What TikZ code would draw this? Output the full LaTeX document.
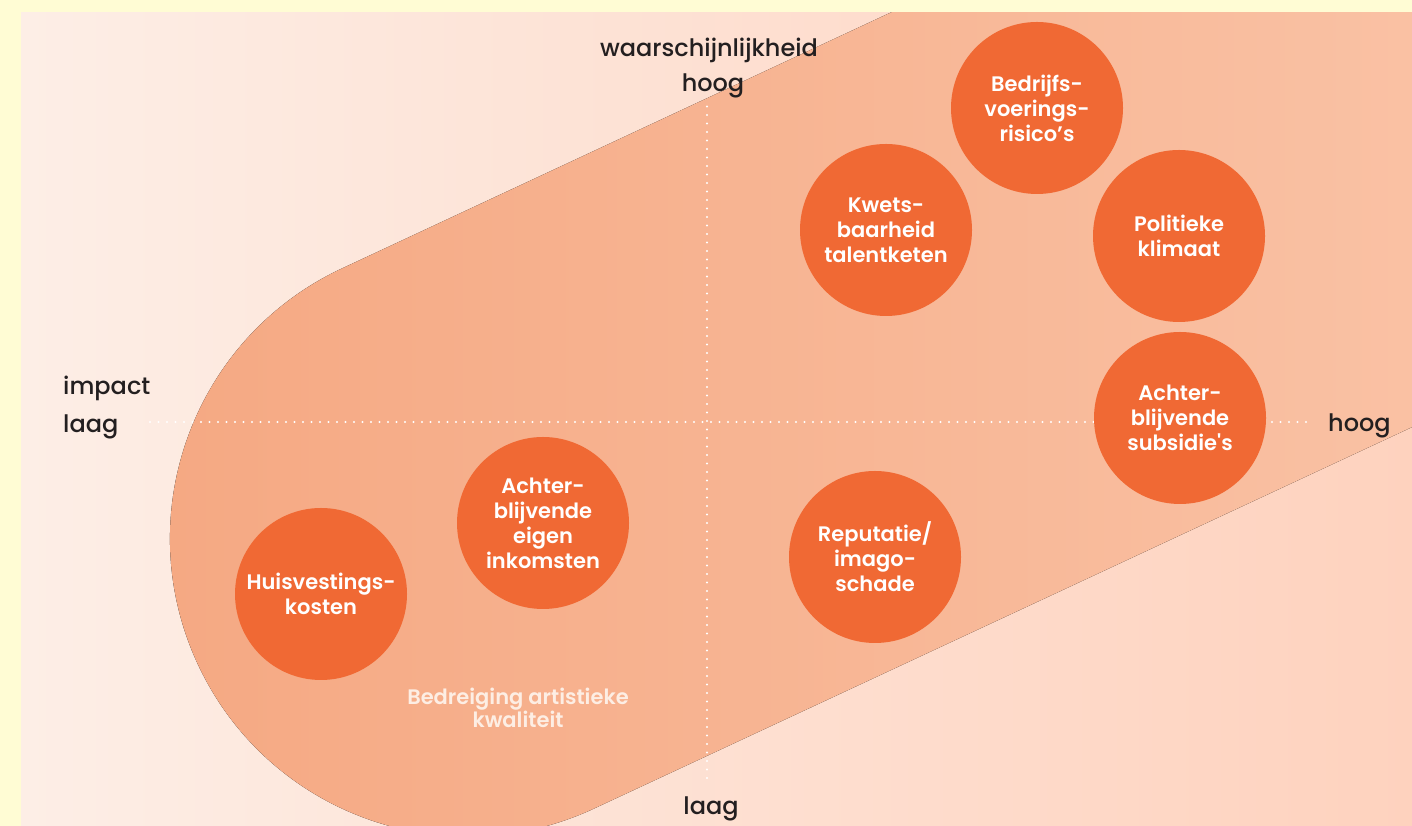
\documentclass[tikz,border=0pt]{standalone}
\usepackage{fontspec}
\setmainfont{Poppins}
\newfontfamily\riskfont{Poppins}[UprightFont={* SemiBold}]
\newfontfamily\axisfont{Poppins}[UprightFont={* Medium}]
\definecolor{bordergold}{HTML}{FFFCD4}
\definecolor{panelL}{HTML}{FDEEE6}
\definecolor{panelR}{HTML}{FED2BE}
\definecolor{bandL}{HTML}{F5A882}
\definecolor{bandR}{HTML}{FBC8AD}
\definecolor{riskorange}{HTML}{F06934}
\definecolor{labelgrey}{HTML}{231F20}
\definecolor{threatpale}{HTML}{FDEEE4}

\begin{document}
\begin{tikzpicture}
	[x=1pt,y=1pt,
	risk/.style={shape=circle,fill=riskorange,text=white,minimum size=172pt,
		inner sep=0pt,align=center,font=\riskfont\fontsize{21}{25}\selectfont},
	axislabel/.style={text=labelgrey,inner sep=0pt,font=\axisfont\fontsize{24}{35}\selectfont},
	axisline/.style={white,line width=2.2pt,line cap=round,dash pattern=on 0pt off 8.5pt}]
	\useasboundingbox (0,0) rectangle (1412,826);
	\fill[bordergold] (0,0) rectangle (1412,826);
	\fill[left color=panelL,right color=panelR] (21,0) rectangle (1412,813);
	
	% band from low/low to high/high
	\begin{scope}
		\clip (21,0) rectangle (1412,813);
		\fill[left color=bandL,right color=bandR] (468,287.5) ++(115:298)
		arc[start angle=115,end angle=295,radius=298]
		-- ++(25:1300) -- ++(115:596) -- cycle;
	\end{scope}
	
	% axes
	\coordinate (xlow) at (150,404);
	\coordinate (xhigh) at (1308,404);
	\coordinate (ytop) at (707,723);
	\coordinate (ybot) at (707,48);
	\draw[axisline] (xlow) -- (xhigh);
	\draw[axisline] (ybot) -- (ytop);
	
	\node[axislabel,anchor=base] (probname) at (709,769) {waarschijnlijkheid};
	\node[axislabel,anchor=base] (probhigh) at (713,734) {hoog};
	\node[axislabel,anchor=base] (problow) at (711,11) {laag};
	\node[axislabel,anchor=base west] (impname) at (63,431) {impact};
	\node[axislabel,anchor=base west] (implow) at (63,393) {laag};
	\node[axislabel,anchor=base west] (imphigh) at (1328,394) {hoog};
	
	% risks
	\node[risk] (bedrijf) at (1037,718) {Bedrijfs-\\voerings-\\risico’s};
	\node[risk] (kwets) at (886,596) {Kwets-\\baarheid\\talentketen};
	\node[risk] (politiek) at (1179,590) {Politieke\\klimaat};
	\node[risk] (subsidie) at (1180,408) {Achter-\\blijvende\\subsidie's};
	\node[risk] (reputatie) at (875,269) {Reputatie/\\imago-\\schade};
	\node[risk] (eigen) at (543,303) {Achter-\\blijvende\\eigen\\inkomsten};
	\node[risk] (huis) at (321,232) {Huisvestings-\\kosten};
	
	\node[text=threatpale,align=center,inner sep=0pt,
	font=\riskfont\fontsize{21}{23}\selectfont] (artist) at (518,118)
	{Bedreiging artistieke\\kwaliteit};
\end{tikzpicture}
\end{document}
